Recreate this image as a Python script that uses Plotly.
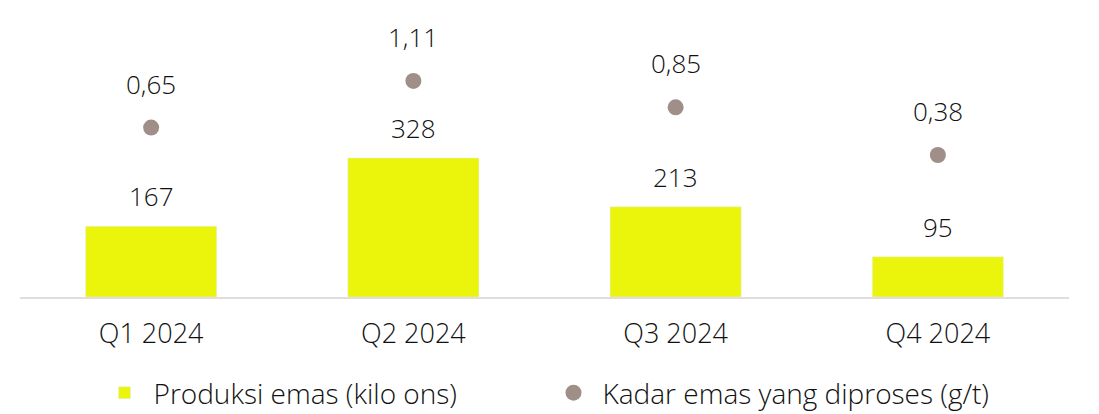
import plotly.graph_objects as go

kuartal = ["Q1 2024", "Q2 2024", "Q3 2024", "Q4 2024"]
produksi = [167, 328, 213, 95]
kadar = [0.65, 1.11, 0.85, 0.38]

warna_bar = "#EAF50B"
warna_dot = "#A08E88"
huruf = dict(family="Open Sans", size=26, color="#111111", weight=300)
huruf_sumbu = dict(huruf, size=27)
huruf_legenda = dict(huruf, size=28)

fig = go.Figure()
fig.add_trace(go.Bar(x=kuartal, y=produksi, name="Produksi emas (kilo ons)",
                     marker_color=warna_bar, width=0.5))
fig.add_trace(go.Scatter(x=kuartal, y=kadar, yaxis="y2", mode="markers",
                         name="Kadar emas yang diproses (g/t)",
                         marker=dict(color=warna_dot, size=16)))

# label angka di atas batang dan titik
for k, v in zip(kuartal, produksi):
    fig.add_annotation(x=k, y=v, yref="y", text=str(v), showarrow=False,
                       yshift=30, font=huruf)
for k, v in zip(kuartal, kadar):
    fig.add_annotation(x=k, y=v, yref="y2", text=f"{v:.2f}".replace(".", ","),
                       showarrow=False, yshift=44, font=huruf)

fig.update_layout(
    width=1099, height=414,
    margin=dict(l=12, r=38, t=10, b=125, autoexpand=False),
    plot_bgcolor="white", paper_bgcolor="white",
    font=huruf,
    showlegend=True,
    legend=dict(orientation="h", x=0.5, xanchor="center", y=-0.344, yanchor="middle",
                font=huruf_legenda, itemwidth=48, entrywidth=386, traceorder="normal"),
    xaxis=dict(showgrid=False, showline=True, linecolor="#E3DCDC", linewidth=2,
               ticks="", tickfont=huruf_sumbu, ticklabelstandoff=12, automargin=False),
    yaxis=dict(range=[0, 658], visible=False, showgrid=False),
    yaxis2=dict(range=[-1.021, 1.731], overlaying="y", visible=False, showgrid=False),
)

fig.write_html("out.html")
